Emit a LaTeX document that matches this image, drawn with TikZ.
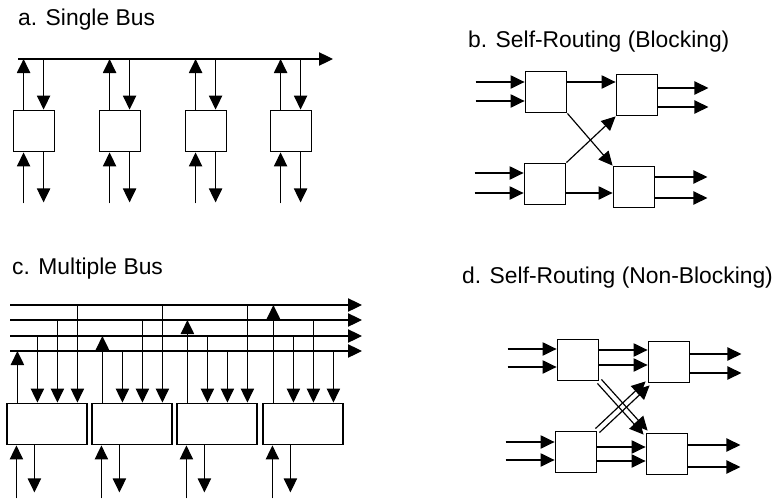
\documentclass[tikz,border=0pt]{standalone}
\usepackage{fontspec}
\setmainfont{Liberation Sans}
\usetikzlibrary{arrows.meta,calc}

\tikzset{
  unit/.style={draw, line width=1pt, inner sep=0pt, minimum width=1.25cm, minimum height=1.25cm},
  wideunit/.style={unit, minimum width=2.4cm},
  link/.style={line width=1pt, -{Triangle[length=4.2mm,width=4mm]}},
  title/.style={anchor=base west, inner sep=0pt, font=\fontsize{19.5}{22}\selectfont}
}

\begin{document}
\begin{tikzpicture}[x=0.03cm, y=-0.03cm]
  \useasboundingbox (0,0) rectangle (773,501);

  % a. single bus
  \node[title] (ta) at (18,25) {a. Single Bus};
  \coordinate (busa) at (18,59);
  \coordinate (busaend) at (333,59);
  \draw[link] (busa) -- (busaend);
  \foreach \i/\x in {1/34,2/120,3/206,4/291} {
    \node[unit] (a\i) at (\x,131) {};
    \path ($(a\i.north west)+(11,0)$) coordinate (u);
    \draw[link] (u) -- (u |- busa);
    \path ($(a\i.north west)+(31,0)$) coordinate (d);
    \draw[link] (d |- busa) -- (d);
    \draw[link] ($(a\i.south west)+(11,51)$) -- ($(a\i.south west)+(11,0)$);
    \draw[link] ($(a\i.south west)+(31,0)$) -- ($(a\i.south west)+(31,50)$);
  }

  % c. multiple bus
  \node[title] (tc) at (12,274) {c. Multiple Bus};
  \foreach \b/\y in {1/305,2/320,3/336,4/351} {
    \coordinate (bus\b) at (10,\y);
    \coordinate (busend\b) at (362,\y);
    \draw[link] (bus\b) -- (busend\b);
  }
  \foreach \i/\x/\w/\p/\q/\r in {1/47/4/3/2/1, 2/132/3/4/2/1, 3/217/2/3/4/1, 4/303/1/3/2/4} {
    \node[wideunit] (c\i) at (\x,424) {};
    \path ($(c\i.north west)+(11,0)$) coordinate (u);
    \draw[link] (u) -- (u |- bus\w);
    \foreach \dx/\s in {31/\p,51/\q,71/\r} {
      \path ($(c\i.north west)+(\dx,0)$) coordinate (d);
      \draw[link] (d |- bus\s) -- (d);
    }
    \draw[link] ($(c\i.south west)+(10,53)$) -- ($(c\i.south west)+(10,0)$);
    \draw[link] ($(c\i.south west)+(28,0)$) -- ($(c\i.south west)+(28,47)$);
  }

  % b. self-routing, blocking
  \node[title] (tb) at (468,47) {b. Self-Routing (Blocking)};
  \node[unit] (btl) at (546,92) {};
  \node[unit] (btr) at (637,95) {};
  \node[unit] (bbl) at (545,184) {};
  \node[unit] (bbr) at (634,187) {};
  \foreach \dy in {-10,9}
    \draw[link] ($(btl.west)+(-49,\dy)$) -- ($(btl.west)+(0,\dy)$);
  \foreach \dy in {-11,9}
    \draw[link] ($(bbl.west)+(-49,\dy)$) -- ($(bbl.west)+(0,\dy)$);
  \foreach \dy in {-7,12}
    \draw[link] ($(btr.east)+(0,\dy)$) -- ($(btr.east)+(50,\dy)$);
  \foreach \dy in {-10,11}
    \draw[link] ($(bbr.east)+(0,\dy)$) -- ($(bbr.east)+(52,\dy)$);
  \path ($(btl.east)+(0,-10)$) coordinate (h);
  \draw[link] (h) -- (h -| btr.west);
  \path ($(bbl.east)+(0,9)$) coordinate (h);
  \draw[link] (h) -- (h -| bbr.west);
  \draw[link] (btl.south east) -- (bbr.north west);
  \draw[link] (bbl.north east) -- (btr.south west);

  % d. self-routing, non-blocking
  \node[title] (td) at (462,283) {d. Self-Routing (Non-Blocking)};
  \node[unit] (dtl) at (578,360) {};
  \node[unit] (dtr) at (669,362) {};
  \node[unit] (dbl) at (576,452) {};
  \node[unit] (dbr) at (667,454) {};
  \foreach \dy in {-11,7}
    \draw[link] ($(dtl.west)+(-49,\dy)$) -- ($(dtl.west)+(0,\dy)$);
  \foreach \dy in {-10,8}
    \draw[link] ($(dbl.west)+(-49,\dy)$) -- ($(dbl.west)+(0,\dy)$);
  \foreach \dy in {-8,11}
    \draw[link] ($(dtr.east)+(0,\dy)$) -- ($(dtr.east)+(51,\dy)$);
  \foreach \dy in {-9,13}
    \draw[link] ($(dbr.east)+(0,\dy)$) -- ($(dbr.east)+(52,\dy)$);
  \foreach \dy in {-10,5} {
    \path ($(dtl.east)+(0,\dy)$) coordinate (h);
    \draw[link] (h) -- (h -| dtr.west);
  }
  \foreach \dy in {-5,9} {
    \path ($(dbl.east)+(0,\dy)$) coordinate (h);
    \draw[link] (h) -- (h -| dbr.west);
  }
  \foreach \s in {-1,1} {
    \draw[link] ($(dtl.south east)+(2*\s,-2*\s)$) -- ($(dbr.north west)+(2*\s,-2*\s)$);
    \draw[link] ($(dbl.north east)+(2*\s,2*\s)$) -- ($(dtr.south west)+(2*\s,2*\s)$);
  }
\end{tikzpicture}
\end{document}
